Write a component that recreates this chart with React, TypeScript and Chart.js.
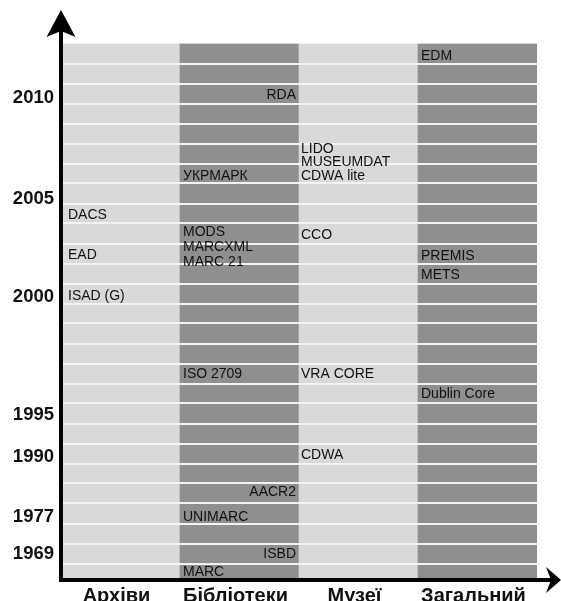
import React, { useEffect, useRef } from "react";
import { Chart, registerables } from "chart.js";

Chart.register(...registerables);

// ---- data ----
const categories = ["Архіви", "Бібліотеки", "Музеї", "Загальний"];
const rowCount = 27;

const yearLabels = ["2010", "2005", "2000", "1995", "1990", "1977", "1969"];
const yearRows = [2.74, 7.75, 12.68, 18.58, 20.65, 23.68, 25.53];

const archivesItems = ["DACS", "EAD", "ISAD (G)"];
const archivesRows = [8.58, 10.59, 12.62];

const librariesItems = ["RDA", "УКРМАРК", "MODS", "MARCXML", "MARC 21", "ISO 2709", "AACR2", "UNIMARC", "ISBD", "MARC"];
const librariesRows = [2.57, 6.62, 9.45, 10.2, 10.91, 16.53, 22.45, 23.66, 25.54, 26.41];
const librariesRightAligned = ["RDA", "AACR2", "ISBD"];

const museumsItems = ["LIDO", "MUSEUMDAT", "CDWA lite", "CCO", "VRA CORE", "CDWA"];
const museumsRows = [5.26, 5.93, 6.62, 9.59, 16.53, 20.59];

const generalItems = ["EDM", "PREMIS", "METS", "Dublin Core"];
const generalRows = [0.62, 10.62, 11.56, 17.51];

// ---- styles ----
const FONT = '"Liberation Sans", Arial, Helvetica, sans-serif';
const columnColors = ["#d9d9d9", "#8f8f8f", "#d9d9d9", "#8f8f8f"];
const textPad = [7, 3, 2, 3];

const columns = [
  { items: archivesItems, rows: archivesRows, right: [] as string[] },
  { items: librariesItems, rows: librariesRows, right: librariesRightAligned },
  { items: museumsItems, rows: museumsRows, right: [] as string[] },
  { items: generalItems, rows: generalRows, right: [] as string[] },
];

const overlayPlugin = {
  id: "overlay",
  afterDraw(chart: any) {
    const { ctx, chartArea } = chart;
    const xs = chart.scales.x;
    const ys = chart.scales.y;
    const half = (xs.getPixelForValue(1) - xs.getPixelForValue(0)) / 2;
    ctx.save();
    ctx.font = `14px ${FONT}`;
    ctx.fillStyle = "#111";
    ctx.textBaseline = "middle";
    columns.forEach((col, ci) => {
      const cx = xs.getPixelForValue(ci);
      col.items.forEach((t, i) => {
        const right = col.right.includes(t);
        ctx.textAlign = right ? "right" : "left";
        const px = right ? cx + half - 3 : cx - half + textPad[ci];
        ctx.fillText(t, px, ys.getPixelForValue(col.rows[i]));
      });
    });

    // axes with arrows
    const left = chartArea.left;
    const bottom = chartArea.bottom;
    const W = chart.width;
    ctx.fillStyle = "#000";
    ctx.fillRect(left - 2, 30, 4, bottom + 4 - 30);
    ctx.fillRect(left - 2, bottom, W - 8 - (left - 2), 4);
    ctx.beginPath();
    ctx.moveTo(left, 10);
    ctx.lineTo(left + 14.5, 37);
    ctx.lineTo(left, 31);
    ctx.lineTo(left - 14.5, 37);
    ctx.closePath();
    ctx.fill();
    const cy = bottom + 2;
    ctx.beginPath();
    ctx.moveTo(W, cy);
    ctx.lineTo(W - 15, cy + 13);
    ctx.lineTo(W - 10, cy);
    ctx.lineTo(W - 15, cy - 13);
    ctx.closePath();
    ctx.fill();
    ctx.restore();
  },
};

export default function App() {
  const ref = useRef<HTMLCanvasElement | null>(null);

  useEffect(() => {
    if (!ref.current) return;
    const chart = new Chart(ref.current, {
      type: "bar",
      data: {
        labels: categories,
        datasets: [
          {
            data: categories.map(() => [0, rowCount]) as any,
            backgroundColor: columnColors,
            borderWidth: 0,
            barPercentage: 1,
            categoryPercentage: 1,
            clip: 0 as any,
            yAxisID: "y",
          },
        ],
      },
      options: {
        animation: false,
        responsive: true,
        maintainAspectRatio: false,
        layout: { padding: { top: 43.5, right: 24, bottom: 0, left: 0 } },
        plugins: {
          legend: { display: false },
          tooltip: { enabled: false },
        },
        scales: {
          x: {
            type: "category",
            grid: { display: false, drawTicks: false },
            border: { display: false },
            ticks: {
              color: "#111",
              font: { family: FONT, size: 20, weight: "bold" },
              padding: 6,
              labelOffset: -4,
              autoSkip: false,
              maxRotation: 0,
            },
            afterFit: (axis: any) => {
              axis.height = 42;
            },
          },
          y: {
            type: "linear",
            position: "left",
            min: 0,
            max: 26.725,
            reverse: true,
            bounds: "data",
            grid: { display: false, drawTicks: false },
            border: { display: false },
            ticks: {
              color: "#111",
              font: { family: FONT, size: 18.5, weight: "bold" },
              padding: 7,
              autoSkip: false,
              callback: (_v: any, i: number) => yearLabels[i],
            },
            afterBuildTicks: (axis: any) => {
              axis.ticks = yearRows.map((v) => ({ value: v }));
            },
            afterFit: (axis: any) => {
              axis.width = 61;
            },
          },
          rows: {
            type: "linear",
            position: "right",
            min: 0,
            max: 26.725,
            reverse: true,
            bounds: "data",
            z: 1,
            grid: { display: true, color: "#f3f3f3", lineWidth: 2, drawTicks: false, z: 1 } as any,
            border: { display: false },
            ticks: { display: false },
            afterBuildTicks: (axis: any) => {
              axis.ticks = Array.from({ length: rowCount - 1 }, (_, i) => ({ value: i + 1 }));
            },
            afterFit: (axis: any) => {
              axis.width = 0;
            },
          },
        },
      },
      plugins: [overlayPlugin],
    });
    return () => chart.destroy();
  }, []);

  return (
    <div
      style={{
        position: "fixed",
        left: 0,
        top: 0,
        width: 561,
        height: 601,
        overflow: "hidden",
        background: "#fff",
      }}
    >
      <div style={{ position: "relative", width: 561, height: 620 }}>
        <canvas ref={ref} />
      </div>
    </div>
  );
}
